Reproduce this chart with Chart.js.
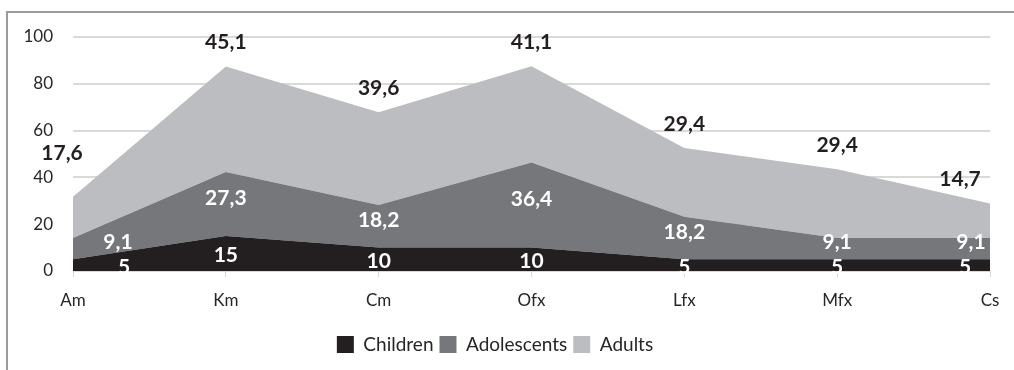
<!DOCTYPE html>
<html>
<head>
<meta charset="utf-8">
<script src="https://cdn.jsdelivr.net/npm/chart.js@4"></script>
<style>
  html, body { margin: 0; padding: 0; background: #fff; }
  #wrap { position: relative; width: 1014px; height: 370px; overflow: hidden; }
  #frame { position: absolute; left: 6px; top: 11px; width: 1020px; height: 400px;
           border-top: 2px solid #9a9a9a; border-left: 2px solid #9a9a9a; }
  canvas { position: absolute; left: 0; top: 0; }
</style>
</head>
<body>
<div id="wrap">
  <div id="frame"></div>
  <canvas id="area-chart" width="1014" height="370"></canvas>
</div>
<script>
// categories and series values
let categories = ['Am', 'Km', 'Cm', 'Ofx', 'Lfx', 'Mfx', 'Cs'];
let children = [5, 15, 10, 10, 5, 5, 5];
let adolescents = [9.1, 27.3, 18.2, 36.4, 18.2, 9.1, 9.1];
let adults = [17.6, 45.1, 39.6, 41.1, 29.4, 29.4, 14.7];
let yTicks = [0, 20, 40, 60, 80, 100];

let fontFamily = 'Lato, "Liberation Sans", sans-serif';

// formats a value with a decimal comma
function fmt(v) {
    return String(v).replace('.', ',');
}

// value labels: children and adolescents in the middle of their band, adults above the top edge
const areaLabels = {
    id: 'areaLabels',
    afterDatasetsDraw(chart) {
        const ctx = chart.ctx;
        const xs = chart.scales.x;
        const ys = chart.scales.y;
        const last = categories.length - 1;
        ctx.save();
        ctx.textAlign = 'center';
        ctx.textBaseline = 'middle';
        ctx.font = 'bold 21px ' + fontFamily;
        for (let i = 0; i < categories.length; i++) {
            let px = xs.getPixelForValue(i);
            let b1 = children[i];
            let b2 = b1 + adolescents[i];
            let top = b2 + adults[i];

            let cx = px, ax = px, tx = px, ty = ys.getPixelForValue(top) - 24;
            if (i === 0) { cx += 51; ax += 45; tx -= 11; ty -= 20; }
            if (i === last) { cx -= 25; ax -= 19; tx -= 30; }

            ctx.fillStyle = '#ffffff';
            ctx.fillText(fmt(children[i]), cx, ys.getPixelForValue(b1 / 2) + 2);
            ctx.fillText(fmt(adolescents[i]), ax, ys.getPixelForValue((b1 + b2) / 2) - 6);
            ctx.fillStyle = '#231f20';
            ctx.fillText(fmt(adults[i]), tx, ty);
        }
        ctx.restore();
    }
};

function makeSet(label, data, color, fill) {
    return {
        label: label,
        data: data,
        backgroundColor: color,
        borderColor: color,
        borderWidth: 0,
        pointRadius: 0,
        fill: fill,
        tension: 0
    };
}

const ctx = document.getElementById('area-chart').getContext('2d');
const areaChart = new Chart(ctx, {
    type: 'line',
    data: {
        labels: categories,
        datasets: [
            makeSet('Children', children, '#231f20', 'origin'),
            makeSet('Adolescents', adolescents, '#76777b', '-1'),
            makeSet('Adults', adults, '#bcbdc0', '-1')
        ]
    },
    options: {
        responsive: false,
        animation: false,
        layout: { padding: { left: 0, right: 24, top: 37, bottom: 6 } },
        plugins: {
            tooltip: { enabled: false },
            legend: {
                position: 'bottom',
                labels: {
                    boxWidth: 17,
                    boxHeight: 17,
                    padding: 6,
                    color: '#262626',
                    font: { family: fontFamily, size: 19 }
                }
            }
        },
        scales: {
            x: {
                offset: false,
                grid: { drawOnChartArea: false, drawTicks: true, tickLength: 6, color: '#d9d9d9' },
                border: { color: '#d9d9d9' },
                ticks: { color: '#262626', padding: 13, font: { family: fontFamily, size: 17 } },
                afterFit(scale) { scale.height = 58; }
            },
            y: {
                stacked: true,
                min: 0,
                max: 100,
                afterBuildTicks(scale) { scale.ticks = yTicks.map(v => ({ value: v })); },
                grid: { color: '#d9d9d9', lineWidth: 2, drawTicks: false },
                border: { display: false },
                ticks: { color: '#262626', padding: 20, font: { family: fontFamily, size: 17 } },
                afterFit(scale) { scale.width = 73; }
            }
        }
    },
    plugins: [areaLabels]
});
</script>
</body>
</html>
